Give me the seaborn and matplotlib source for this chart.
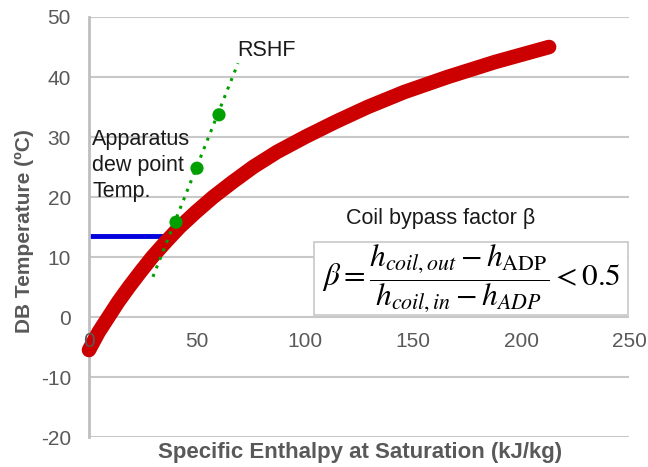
import matplotlib
matplotlib.use("Agg")
import matplotlib.pyplot as plt
import seaborn as sns
import pandas as pd
from matplotlib.patches import Rectangle

# ---- data ----
sat_temp = [-5.5, -2.5, 0, 2.5, 5, 7.5, 10, 12.5, 15, 17.5, 20, 22.5, 25, 27.5,
            30, 32.5, 35, 37.5, 40, 42.5, 45]
sat_enthalpy = [0, 4.5, 9, 13.5, 18.5, 23.8, 29.3, 35.5, 42, 49.5, 57.5, 66.5,
                76, 87, 100, 114, 129, 146, 166, 188, 213]

adp_enthalpy = [0, 38.5]
adp_temp = [13.5, 13.5]

rshf_line_h = [29.6, 69]
rshf_line_t = [6.7, 42.3]
rshf_pts_h = [40.3, 50, 60.2]
rshf_pts_t = [15.8, 24.8, 33.7]

x_ticks = [0, 50, 100, 150, 200, 250]
y_ticks = [-20, -10, 0, 10, 20, 30, 40, 50]

sns.set_theme(style="white")
plt.rcParams['font.family'] = ['Liberation Sans', 'DejaVu Sans']
plt.rcParams['mathtext.fontset'] = 'stix'
plt.rcParams['axes.unicode_minus'] = False

fig = plt.figure(figsize=(6.48, 4.67), dpi=100)
ax = fig.add_axes([0.1373, 0.0642, 0.8334, 0.8994])

sat = pd.DataFrame({"h": sat_enthalpy, "T": sat_temp})
sns.lineplot(data=sat, x="h", y="T", sort=False, color="#cc0000", lw=10.5,
             solid_capstyle="round", solid_joinstyle="round", ax=ax,
             clip_on=False, zorder=3)

sns.lineplot(x=adp_enthalpy, y=adp_temp, color="#0000dd", lw=3.5, ax=ax,
             solid_capstyle="butt", zorder=2)

sns.lineplot(x=rshf_line_h, y=rshf_line_t, color="#00a000", lw=2.2,
             linestyle=(0, (1, 2)), ax=ax, zorder=4)
sns.scatterplot(x=rshf_pts_h, y=rshf_pts_t, color="#00a000", s=90,
                edgecolor="none", ax=ax, zorder=5)

ax.set_xlim(0, 250)
ax.set_ylim(-20, 50)
ax.set_xticks(x_ticks)
ax.set_yticks(y_ticks)
ax.grid(axis="y", color="#c8c8c8", lw=1.5)
ax.set_axisbelow(True)
ax.xaxis.set_zorder(3.5)

for s in ["top", "right"]:
    ax.spines[s].set_visible(False)
ax.spines["bottom"].set_position(("data", 0))
ax.spines["bottom"].set_visible(False)
ax.spines["left"].set_color("#bfbfbf")
ax.spines["left"].set_linewidth(2)

ax.tick_params(axis="both", length=0, labelsize=15, labelcolor="#595959")
ax.tick_params(axis="x", pad=11)
ax.tick_params(axis="y", pad=13)

ax.set_xlabel("Specific Enthalpy at Saturation (kJ/kg)", fontsize=16,
              fontweight="bold", color="#595959")
ax.set_ylabel("DB Temperature (ºC)", fontsize=15, fontweight="bold",
              color="#595959")
ax.xaxis.set_label_coords(0.502, -0.012)
ax.yaxis.set_label_coords(-0.102, 0.49)

ax.text(68.5, 44.5, "RSHF", fontsize=15.5, color="#1a1a1a", va="center", ha="left")
ax.text(1.5, 25.3, "Apparatus\ndew point\nTemp.", fontsize=15.5, color="#1a1a1a",
        va="center", ha="left", linespacing=1.3)
ax.text(163, 16.5, "Coil bypass factor β", fontsize=15.5, color="#1a1a1a",
        va="center", ha="center")

# formula box
ax.add_patch(Rectangle((104, 0.3), 145.5, 12.2, facecolor="white",
                       edgecolor="#c8c8c8", lw=1.2, zorder=6))
ax.text(177, 6.4,
        r"$\beta = \dfrac{h_{coil,out} - h_{\mathrm{ADP}}}{h_{coil,in} - h_{ADP}} < 0.5$",
        fontsize=22.5, color="black", ha="center", va="center", zorder=7)

fig.savefig("out.png", dpi=100)
